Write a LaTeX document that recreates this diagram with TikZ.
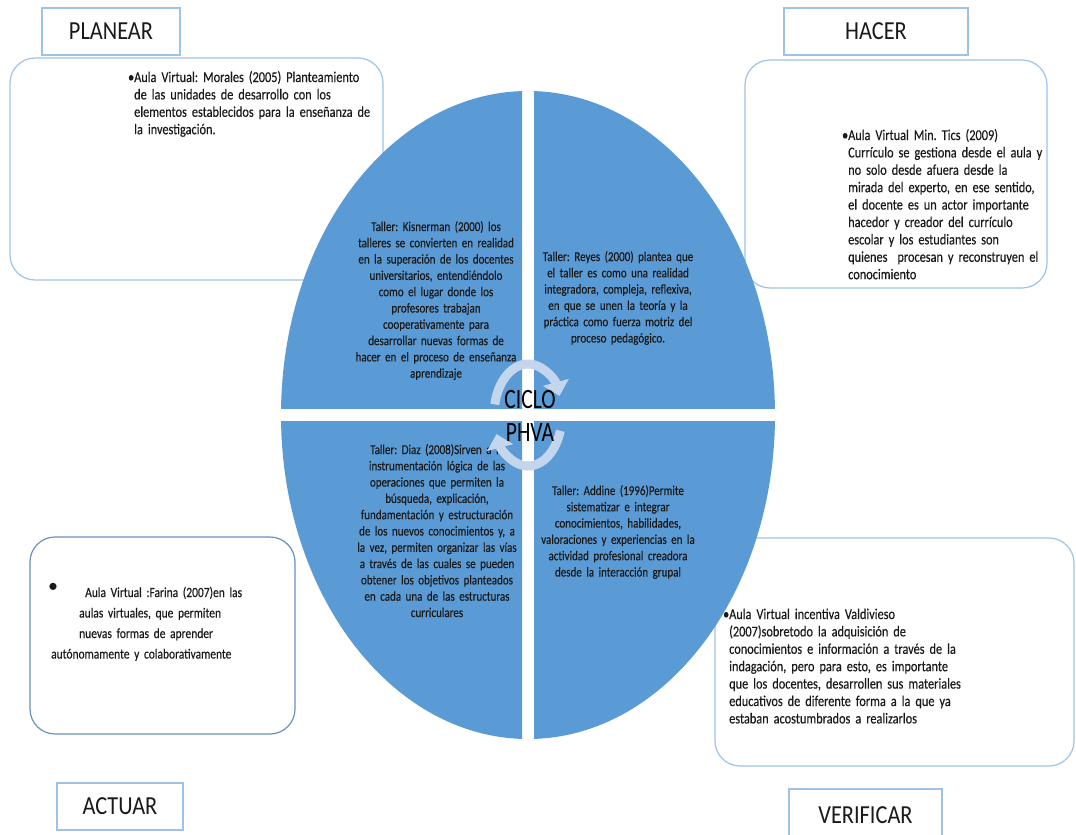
\documentclass[tikz,border=0pt]{standalone}
\usepackage{fontspec}
\setmainfont{Carlito}
\newfontfamily\boxfont[FakeStretch=0.82,FakeBold=0.35]{Carlito}
\newfontfamily\piefont[FakeStretch=0.815,FakeBold=0.35]{Carlito}
\newfontfamily\tagfont[FakeStretch=0.86]{Carlito}
\newfontfamily\hubfont[FakeStretch=0.77]{Carlito}
\usetikzlibrary{arrows.meta}

\definecolor{pie}{HTML}{5B9BD5}
\definecolor{frame}{HTML}{9DC3E6}
\definecolor{framedark}{HTML}{6A8FC0}
\definecolor{ring}{HTML}{C3D6EE}
\definecolor{ink}{HTML}{1A1A1A}

\begin{document}
\frenchspacing
\begin{tikzpicture}[x=1pt,y=-1pt,
  tag/.style={draw=frame, line width=1.4pt, fill=white, inner sep=0pt,
    font=\tagfont\fontsize{26}{30}\selectfont, text=ink},
  panel/.style={draw=frame, line width=1.2pt, rounded corners=25pt, inner sep=0pt},
  paneltext/.style={anchor=base west, inner sep=0pt, text width=340pt, align=left,
    font=\boxfont\fontsize{15}{17.4}\selectfont\frenchspacing, text=ink},
  pietext/.style={anchor=base, inner sep=0pt, text width=210pt, align=center,
    font=\piefont\fontsize{13.5}{16.3}\selectfont\frenchspacing, text=ink},
  ringarrow/.style={draw=ring, line width=9pt, -{Triangle[length=14pt,width=26pt]}}
]
\useasboundingbox (0,0) rectangle (1076,835);
\clip (0,0) rectangle (1076,835);

% text panels behind the cycle
\node[panel, minimum width=373pt, minimum height=222pt] (planbox) at (196.5,169) {};
\node[panel, minimum width=302pt, minimum height=228pt] (hacerbox) at (896,174) {};
\node[panel, draw=framedark, minimum width=265pt, minimum height=197pt] (actbox) at (162.5,635.5) {};
\node[panel, minimum width=359pt, minimum height=228pt] (verbox) at (894.5,652) {};

% phase titles
\node[tag, minimum width=138pt, minimum height=47pt] (planear) at (111,31.5) {PLANEAR};
\node[tag, minimum width=184pt, minimum height=47pt] (hacer) at (876,31.5) {HACER};
\node[tag, minimum width=126pt, minimum height=47pt] (actuar) at (120,806.5) {ACTUAR};
\node[tag, minimum width=153pt, minimum height=53pt] (verificar) at (865.5,815.5) {VERIFICAR};

% four quadrants of the cycle
\foreach \xa/\xb/\ya/\yb in {0/522/0/408, 534/1076/0/408, 0/522/421/835, 534/1076/421/835}{
  \begin{scope}
    \clip (\xa,\ya) rectangle (\xb,\yb);
    \fill[pie] (528,415) ellipse [x radius=247pt, y radius=324pt];
  \end{scope}
}

% panel texts
\node[paneltext] (plantext) at (134,82) {\llap{•}Aula Virtual: Morales (2005) Planteamiento\\
de las unidades de desarrollo con los\\
elementos establecidos para la enseñanza de\\
la investigación.};
\node[paneltext] (hacertext) at (848,140) {\llap{•}Aula Virtual Min. Tics (2009)\\
Currículo se gestiona desde el aula y\\
no solo desde afuera desde la\\
mirada del experto, en ese sentido,\\
el docente es un actor importante\\
hacedor y creador del currículo\\
escolar y los estudiantes son\\
quienes\ \ procesan y reconstruyen el\\
conocimiento};
\node[anchor=base, inner sep=0pt, font=\fontsize{20}{20}\selectfont, text=ink] (actbullet) at (53,592) {•};
\node[paneltext, font=\boxfont\fontsize{14}{20.5}\selectfont\frenchspacing] (acttext) at (51,597) {\hspace*{34pt}Aula Virtual :Farina (2007)en las\\
\hspace*{28pt}aulas virtuales, que permiten\\
\hspace*{28pt}nuevas formas de aprender\\
autónomamente y colaborativamente};
\node[paneltext] (vertext) at (729,619) {\llap{•}Aula Virtual incentiva Valdivieso\\
(2007)sobretodo la adquisición de\\
conocimientos e información a través de la\\
indagación, pero para esto, es importante\\
que los docentes, desarrollen sus materiales\\
educativos de diferente forma a la que ya\\
estaban acostumbrados a realizarlos};

% quadrant texts
\node[pietext] (kisnerman) at (436,231) {Taller: Kisnerman (2000) los\\
talleres se convierten en realidad\\
en la superación de los docentes\\
universitarios, entendiéndolo\\
como el lugar donde los\\
profesores trabajan\\
cooperativamente para\\
desarrollar nuevas formas de\\
hacer en el proceso de enseñanza\\
aprendizaje};
\node[pietext] (reyes) at (618,261) {Taller: Reyes (2000) plantea que\\
el taller es como una realidad\\
integradora, compleja, reflexiva,\\
en que se unen la teoría y la\\
práctica como fuerza motriz del\\
proceso pedagógico.};
\node[pietext] (diaz) at (437,454) {Taller: Diaz (2008)Sirven a la\\
instrumentación lógica de las\\
operaciones que permiten la\\
búsqueda, explicación,\\
fundamentación y estructuración\\
de los nuevos conocimientos y, a\\
la vez, permiten organizar las vías\\
a través de las cuales se pueden\\
obtener los objetivos planteados\\
en cada una de las estructuras\\
curriculares};
\node[pietext] (addine) at (618,495) {Taller: Addine (1996)Permite\\
sistematizar e integrar\\
conocimientos, habilidades,\\
valoraciones y experiencias en la\\
actividad profesional creadora\\
desde la interacción grupal};

% circular arrows at the hub
\coordinate (hub) at (528,415);
\draw[ringarrow] ([shift={(168:34pt and 51pt)}]hub) arc [start angle=168, end angle=22, x radius=34pt, y radius=51pt];
\draw[ringarrow] ([shift={(-18:34pt and 51pt)}]hub) arc [start angle=-18, end angle=-158, x radius=34pt, y radius=51pt];

\node[inner sep=0pt, align=center, font=\hubfont\fontsize{28}{33}\selectfont, text=black] (ciclo) at (530,416) {CICLO\\PHVA};
\end{tikzpicture}
\end{document}
